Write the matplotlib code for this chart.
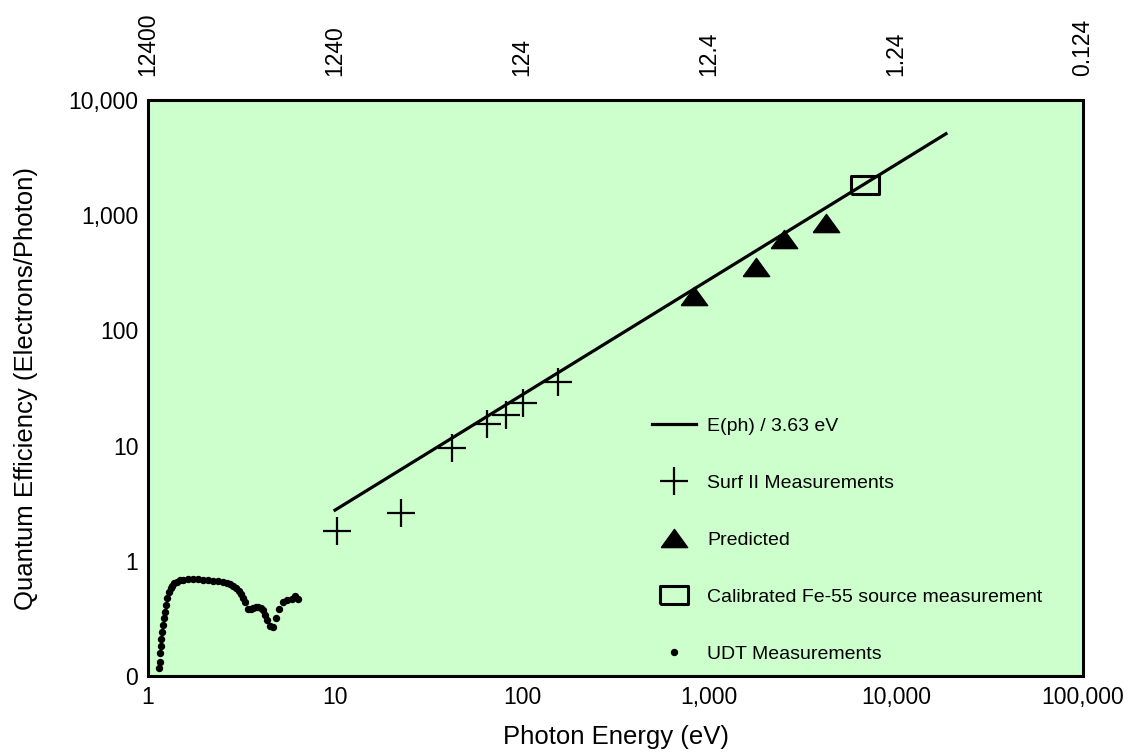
import numpy as np
import matplotlib.pyplot as plt

# photon energy (eV) vs quantum efficiency (electrons/photon)
line_e = [10.0, 18500.0]
surf_e = [10.3, 22.5, 42.4, 65.3, 81.8, 101.6, 155.0]
surf_qe = [1.8, 2.58, 9.6, 15.4, 18.3, 23.5, 35.8]
pred_e = [828.0, 1783.0, 2529.0, 4207.0]
pred_qe = [198.0, 357.0, 618.0, 864.0]
fe55_e = [6850.0]
fe55_qe = [1830.0]
udt_e = [1.145, 1.155, 1.16, 1.169, 1.178, 1.193, 1.207, 1.222, 1.238, 1.253,
         1.268, 1.295, 1.32, 1.339, 1.38, 1.424, 1.48, 1.545, 1.64, 1.747,
         1.86, 1.976, 2.1, 2.234, 2.38, 2.527, 2.64, 2.745, 2.85, 2.952,
         3.05, 3.143, 3.22, 3.30, 3.44, 3.55, 3.657, 3.77, 3.89, 4.02,
         4.14, 4.23, 4.31, 4.49, 4.67, 4.83, 5.03, 5.25, 5.51, 5.87,
         6.1, 6.36]
udt_qe = [0.117, 0.133, 0.157, 0.182, 0.21, 0.243, 0.278, 0.317, 0.363, 0.414,
          0.473, 0.541, 0.58, 0.61, 0.64, 0.661, 0.675, 0.684, 0.69, 0.693,
          0.692, 0.688, 0.682, 0.674, 0.664, 0.652, 0.641, 0.627, 0.605, 0.578,
          0.548, 0.516, 0.48, 0.443, 0.38, 0.385, 0.393, 0.40, 0.40, 0.39,
          0.375, 0.34, 0.307, 0.272, 0.265, 0.317, 0.38, 0.443, 0.458, 0.468,
          0.496, 0.465]

x_ticks = [1, 10, 100, 1000, 10000, 100000]
x_labels = ['1', '10', '100', '1,000', '10,000', '100,000']
top_labels = ['12400', '1240', '124', '12.4', '1.24', '0.124']
y_ticks = [0.1, 1, 10, 100, 1000, 10000]
y_labels = ['0', '1', '10', '100', '1,000', '10,000']

plt.rcParams['font.family'] = ['Liberation Sans', 'DejaVu Sans']

fig = plt.figure(figsize=(11.35, 7.55), dpi=100)
ax = fig.add_axes([0.1304, 0.1046, 0.8238, 0.7629])
ax.set_facecolor('#ccffcc')

tri = [(-1, -0.69), (1, -0.69), (0, 0.69), (-1, -0.69)]
rect = [(-1, -0.67), (1, -0.67), (1, 0.67), (-1, 0.67), (-1, -0.67)]

line_qe = [e / 3.63 for e in line_e]
ax.plot(line_e, line_qe, color='black', lw=2.3, label='E(ph) / 3.63 eV')
ax.plot(surf_e, surf_qe, ls='none', marker='+', ms=20, mew=1.6,
        color='black', label='Surf II Measurements')
ax.plot(pred_e, pred_qe, ls='none', marker=tri, ms=19, color='black',
        label='Predicted')
ax.plot(fe55_e, fe55_qe, ls='none', marker=rect, ms=20, mew=2.2,
        mfc='none', mec='black', label='Calibrated Fe-55 source measurement')
ax.plot(udt_e, udt_qe, ls='none', marker='o', ms=4.3, color='black',
        label='UDT Measurements')

ax.set_xscale('log')
ax.set_yscale('log')
ax.set_xlim(1, 100000)
ax.set_ylim(0.1, 10000)
ax.set_xticks(x_ticks)
ax.set_xticklabels(x_labels)
ax.set_yticks(y_ticks)
ax.set_yticklabels(y_labels)
ax.minorticks_off()
ax.tick_params(length=0, labelsize=16.5, pad=7)
for s in ax.spines.values():
    s.set_linewidth(2.2)

ax.set_xlabel('Photon Energy (eV)', fontsize=18.5, labelpad=12)
ax.set_ylabel('Quantum Efficiency (Electrons/Photon)', fontsize=18.5,
              labelpad=22)

ax2 = ax.twiny()
ax2.set_xscale('log')
ax2.set_xlim(1, 100000)
ax2.set_xticks(x_ticks)
ax2.set_xticklabels(top_labels, rotation=90)
ax2.minorticks_off()
ax2.tick_params(length=0, labelsize=16.5, pad=17)
for s in ax2.spines.values():
    s.set_visible(False)

ax.legend(loc='lower left', bbox_to_anchor=(0.52, -0.008), frameon=False,
          fontsize=14, labelspacing=2.03, handlelength=2.3, handletextpad=0.55,
          markerscale=1.0)

fig.savefig('out.png', dpi=100)
